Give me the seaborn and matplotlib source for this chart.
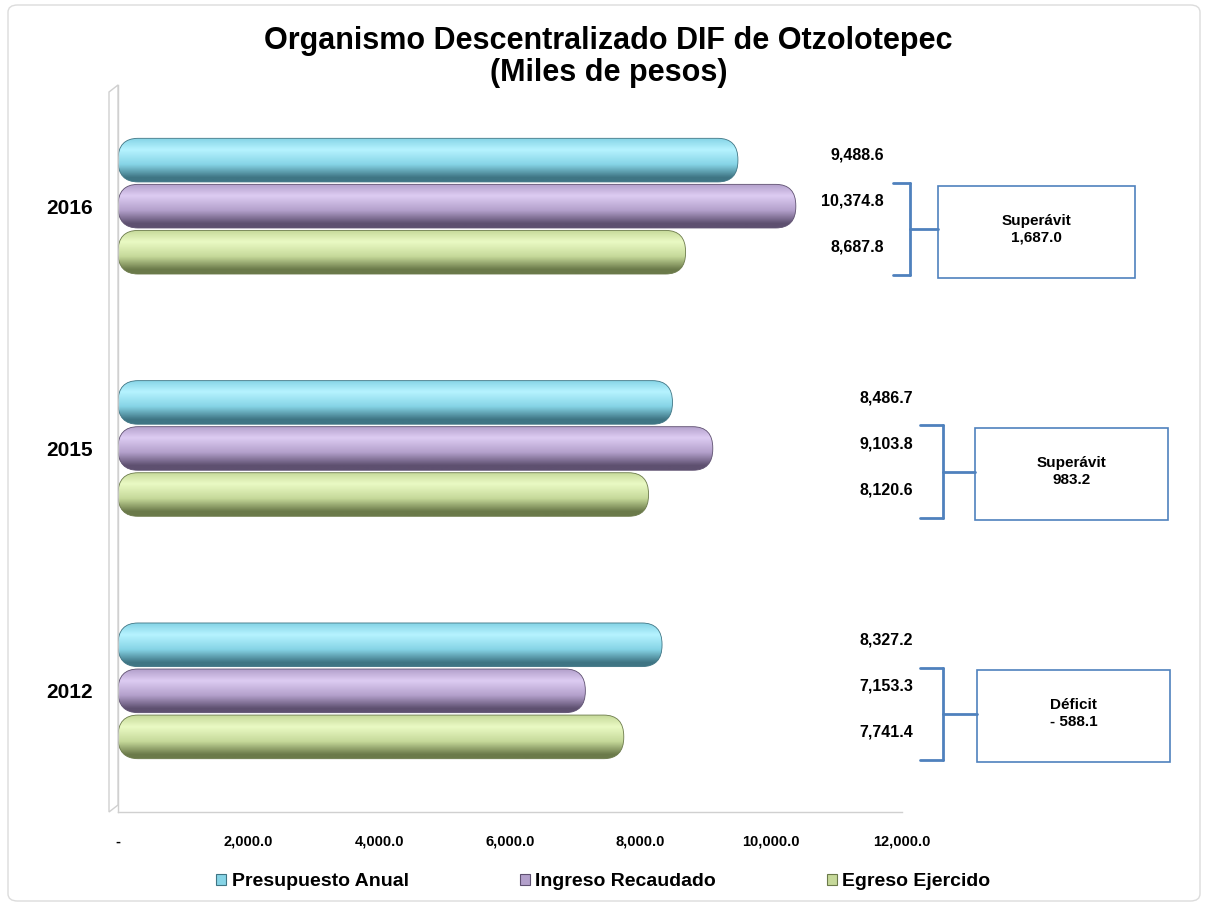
import numpy as np
import pandas as pd
import seaborn as sns
import matplotlib.pyplot as plt
from matplotlib.patches import FancyBboxPatch, Rectangle, Polygon
from matplotlib.colors import LinearSegmentedColormap
from matplotlib.lines import Line2D
from matplotlib.transforms import blended_transform_factory

# data (miles de pesos)
years = ['2016', '2015', '2012']
series = ['Presupuesto Anual', 'Ingreso Recaudado', 'Egreso Ejercido']
presupuesto = [9488.6, 8486.7, 8327.2]
ingreso = [10374.8, 9103.8, 7153.3]
egreso = [8687.8, 8120.6, 7741.4]

df = pd.DataFrame({
    'Año': years * 3,
    'Serie': np.repeat(series, 3),
    'Valor': presupuesto + ingreso + egreso,
})

# colours: (mid, light, dark) for the cylinder shading
shades = {
    'Presupuesto Anual': ('#86d4e6', '#b6f3ff', '#3f7584'),
    'Ingreso Recaudado': ('#b3a0cb', '#ddccf2', '#5e5070'),
    'Egreso Ejercido': ('#c6d99a', '#eafac4', '#6b7a4a'),
}
palette = {k: v[0] for k, v in shades.items()}

sns.set_theme(style='white')
plt.rcParams['font.family'] = ['Liberation Sans', 'DejaVu Sans']
plt.rcParams['text.color'] = 'black'
plt.rcParams['xtick.color'] = 'black'
plt.rcParams['ytick.color'] = 'black'

W, H = 1207, 906
fig = plt.figure(figsize=(W / 100, H / 100), dpi=100)
ax = fig.add_axes([118 / W, 1 - 812 / H, 784 / W, 727 / H])

sns.barplot(data=df, y='Año', x='Valor', hue='Serie', order=years,
            hue_order=series, palette=palette, width=0.57, orient='h',
            saturation=1, legend=False, ax=ax)

# replace flat bars by shaded rounded cylinders
r_px = 20
x_per_px = 12000 / 784
for cont, name in zip(ax.containers, series):
    mid, light, dark = shades[name]
    cmap = LinearSegmentedColormap.from_list(
        name, [(0, mid), (0.26, light), (0.6, mid), (0.9, dark), (1, dark)])
    img = cmap(np.linspace(0, 1, 80))[:, None, :]
    for bar in cont:
        x0, w = bar.get_x(), bar.get_width()
        y0, h = bar.get_y(), bar.get_height()
        g = 0.005
        rx = r_px * x_per_px
        ry = (h - 2 * g) / 2 * 0.98
        clip = FancyBboxPatch((x0, y0 + g), w, h - 2 * g,
                              boxstyle=f'round,pad=0,rounding_size={rx}',
                              mutation_aspect=ry / rx, facecolor='none',
                              edgecolor=dark, lw=0.6, zorder=3)
        ax.add_patch(clip)
        im = ax.imshow(img, extent=(x0, x0 + w, y0 + h - g, y0 + g),
                       aspect='auto', origin='upper', zorder=2,
                       interpolation='bilinear')
        im.set_clip_path(clip)
        bar.set_visible(False)

ax.set_xlim(0, 12000)
ax.set_ylim(2.5, -0.5)
ax.set_xticks(range(0, 12001, 2000))
ax.set_xticklabels(['-' if v == 0 else f'{v:,.1f}' for v in range(0, 12001, 2000)],
                   fontsize=10.5, fontweight='bold')
ax.tick_params(axis='x', length=0, pad=16)
ax.tick_params(axis='y', length=0, pad=18, labelsize=15)
for t in ax.get_yticklabels():
    t.set_fontweight('bold')
ax.set_xlabel('')
ax.set_ylabel('')
for s in ['top', 'right']:
    ax.spines[s].set_visible(False)
for s in ['left', 'bottom']:
    ax.spines[s].set_color('#d0d0d0')
    ax.spines[s].set_linewidth(1)

# value labels next to the bars
label_x = [11720, 12170, 12170]
for cont, vals in zip(ax.containers, [presupuesto, ingreso, egreso]):
    for i, (bar, v) in enumerate(zip(cont, vals)):
        yc = bar.get_y() + bar.get_height() / 2 - 0.02
        ax.text(label_x[i], yc, f'{v:,.1f}', ha='right', va='center',
                fontsize=11.5, fontweight='bold', clip_on=False)

# bracket + balance box for each year
blue = '#4f81bd'
tr = blended_transform_factory(fig.transFigure, ax.transData)
bracket_x = [910, 943, 943]
stub_left = [893, 920, 920]
box_x = [(938, 1135), (975, 1168), (977, 1170)]
ing_bars = ax.containers[1]
egr_bars = ax.containers[2]
for i, yr in enumerate(years):
    top = ing_bars[i].get_y()
    bot = egr_bars[i].get_y() + egr_bars[i].get_height()
    midy = (top + bot) / 2
    bx = bracket_x[i] / W
    sl = stub_left[i] / W
    b0, b1 = box_x[i][0] / W, box_x[i][1] / W
    for xs, ys in [([sl, bx], [top, top]), ([bx, bx], [top, bot]),
                   ([sl, bx], [bot, bot]), ([bx, b0], [midy, midy])]:
        fig.add_artist(Line2D(xs, ys, transform=tr, color=blue, lw=2))
    fig.add_artist(Rectangle((b0, top + 0.01), b1 - b0, bot - top,
                             transform=tr, facecolor='white', edgecolor=blue,
                             lw=1.2))
    bal = ingreso[i] - egreso[i]
    if bal >= 0:
        txt = f'Superávit\n{bal:,.1f}'
    else:
        txt = f'Déficit\n- {abs(bal):,.1f}'
    fig.text((b0 + b1) / 2, midy, txt, transform=tr, ha='center',
             va='center', fontsize=11, fontweight='bold', linespacing=1.25)

# 3D wall on the left
wall = Polygon([(109 / W, 1 - 92 / H), (118 / W, 1 - 85 / H),
                (118 / W, 1 - 805 / H), (109 / W, 1 - 812 / H)],
               closed=True, transform=fig.transFigure, facecolor='white',
               edgecolor='#d0d0d0', lw=1)
fig.add_artist(wall)

fig.text(0.504, 1 - 57 / H, 'Organismo Descentralizado DIF de Otzolotepec\n(Miles de pesos)',
         ha='center', va='center', fontsize=22, fontweight='bold',
         linespacing=1.05)

handles = [Rectangle((0, 0), 1, 1, facecolor=shades[s][0], edgecolor=shades[s][2],
                     lw=0.8) for s in series]
fig.legend(handles, series, loc='center', bbox_to_anchor=(0.5, 1 - 882 / H),
           ncol=3, frameon=False, prop={'weight': 'bold', 'size': 14},
           handlelength=0.5, handleheight=0.5, handletextpad=0.3,
           columnspacing=5.7)

# light frame around the picture
fig.add_artist(FancyBboxPatch((8 / W, 5 / H), 1192 / W, 896 / H,
                              boxstyle='round,pad=0,rounding_size=0.008',
                              transform=fig.transFigure, facecolor='none',
                              edgecolor='#dcdcdc', lw=1))

fig.savefig('out.png', dpi=100, facecolor='white')
